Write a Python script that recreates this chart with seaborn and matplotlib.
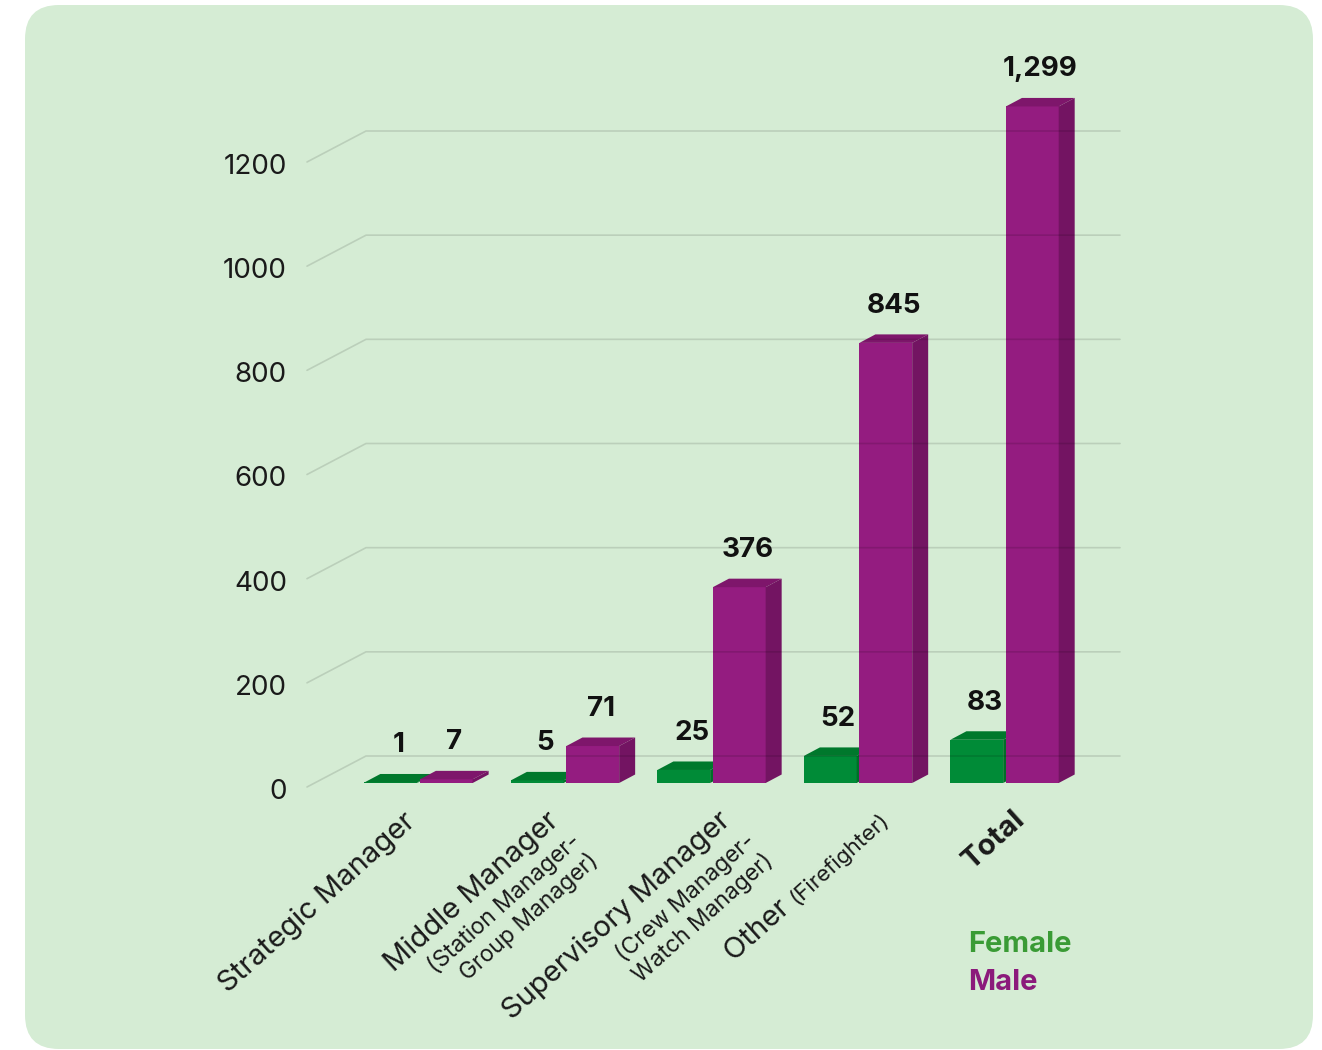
import numpy as np
import pandas as pd
import matplotlib
matplotlib.use("Agg")
import matplotlib.pyplot as plt
import seaborn as sns
from matplotlib.patches import Polygon, FancyBboxPatch
from matplotlib.lines import Line2D
from matplotlib.transforms import IdentityTransform, ScaledTranslation

# ---------------- data ----------------
categories = ["Strategic Manager", "Middle Manager", "Supervisory Manager", "Other", "Total"]
label_main = ["Strategic Manager", "Middle Manager", "Supervisory Manager", "Other", "Total"]
label_sub = ["", "(Station Manager-\nGroup Manager)", "(Crew Manager-\nWatch Manager)", "(Firefighter)", ""]
series = ["Female", "Male"]
female = [1, 5, 25, 52, 83]
male = [7, 71, 376, 845, 1299]
yticks = [0, 200, 400, 600, 800, 1000, 1200]

# ---------------- style ----------------
W, H = 1322, 1050
BG = "#d5ecd4"
GREEN_F, GREEN_TOP, GREEN_SIDE = "#008b37", "#00782c", "#006e28"
PURP_F, PURP_TOP, PURP_SIDE = "#941c80", "#7e166b", "#731462"
LEG_GREEN, LEG_PURP = "#3a9b35", "#8b1a7b"
TXT = "#1a1a1a"

sns.set_style("white")
plt.rcParams["font.family"] = ["Inter", "DejaVu Sans"]

fig = plt.figure(figsize=(W / 100, H / 100), dpi=100)
fig.patch.set_facecolor("white")

bg = FancyBboxPatch((25, 1), 1288, 1044, boxstyle="round,pad=0,rounding_size=34",
                    transform=IdentityTransform(), facecolor=BG, edgecolor="none", zorder=-1)
fig.add_artist(bg)

ax = fig.add_axes([307 / W, (H - 783) / H, (1120 - 307) / W, (783 - 158) / H])
ax.patch.set_alpha(0)

df = pd.DataFrame({
    "category": categories * 2,
    "sex": ["Female"] * len(categories) + ["Male"] * len(categories),
    "count": female + male,
})
sns.barplot(data=df, x="category", y="count", hue="sex", order=categories, hue_order=series,
            palette=[GREEN_F, PURP_F], saturation=1, width=0.758, gap=0.05, dodge=True,
            errorbar=None, legend=False, ax=ax, linewidth=0, edgecolor="none")

ax.set_xlim(-0.761, 4.788)
ax.set_ylim(0, 1200)
for s in ax.spines.values():
    s.set_visible(False)
ax.set_xlabel("")
ax.set_ylabel("")
ax.set_xticks(range(len(categories)))
ax.set_xticklabels([])
ax.set_yticks(yticks)
ax.set_yticklabels([str(t) for t in yticks], fontsize=20, color=TXT)
ax.tick_params(axis="both", length=0)
ax.tick_params(axis="y", pad=14.4)
for lab in ax.get_yticklabels():
    lab.set_transform(lab.get_transform() + ScaledTranslation(0, -6 / 100, fig.dpi_scale_trans))

# ---------------- 3D faces ----------------
DX, DY = 16, 8.5
shades = [(GREEN_TOP, GREEN_SIDE), (PURP_TOP, PURP_SIDE)]
values = [female, male]
for hi, cont in enumerate(ax.containers):
    for rect, val in zip(cont, values[hi]):
        rect.set_zorder(2 + 2 * hi)
        rect.set_clip_on(False)
        x0, y0 = ax.transData.transform((rect.get_x(), 0))
        x1, y1 = ax.transData.transform((rect.get_x() + rect.get_width(), rect.get_height()))
        top = [(x0, y1), (x1, y1), (x1 + DX, y1 + DY), (x0 + DX, y1 + DY)]
        side = [(x1, y0), (x1, y1), (x1 + DX, y1 + DY), (x1 + DX, y0 + DY)]
        for pts, c in ((top, shades[hi][0]), (side, shades[hi][1])):
            ax.add_patch(Polygon(pts, closed=True, transform=IdentityTransform(),
                                 facecolor=c, edgecolor="none", zorder=2.5 + 2 * hi, clip_on=False))
        ax.annotate(f"{val:,}", xy=(rect.get_x() + rect.get_width() / 2, rect.get_height()),
                    xytext=(DX / 2, 37), textcoords="offset pixels", ha="center", va="center",
                    fontsize=20, fontweight="bold", color="#111111", zorder=10,
                    annotation_clip=False)

# ---------------- pseudo-3D gridlines ----------------
for t in yticks:
    _, yd = ax.transData.transform((0, t))
    fig.add_artist(Line2D([307, 366, 1120], [yd - 4, yd + 27, yd + 27],
                          transform=IdentityTransform(), color="black", alpha=0.12,
                          lw=1.2, zorder=5))

# ---------------- category labels ----------------
ROT = 42
def cat_text(text, cat, dx, dy, size, weight="normal", ha="right", va="top", ls=1.05):
    ax.annotate(text, xy=(cat, 0), xytext=(dx, dy), textcoords="offset pixels",
                rotation=ROT, rotation_mode="anchor", ha=ha, va=va, multialignment="right",
                linespacing=ls, fontsize=size, fontweight=weight, color=TXT,
                annotation_clip=False)

main_off = [(-16, -24), (-19, -24), (6, -24), None, (8, -22)]
sub_off = [None, (4, -46), (32, -46), None, None]
for i, cat in enumerate(categories):
    if i == 3:
        cat_text(label_main[i] + " ", i, -61, -122, 21, ha="right", va="baseline")
        cat_text(label_sub[i], i, -61, -122, 16, ha="left", va="baseline")
        continue
    cat_text(label_main[i], i, *main_off[i], 21, weight="bold" if cat == "Total" else "normal")
    if label_sub[i]:
        cat_text(label_sub[i], i, *sub_off[i], 16.5, ls=1.2)

# ---------------- legend ----------------
fig.text(968 / W, 1 - 944 / H, series[0], fontsize=21, fontweight="bold", color=LEG_GREEN,
         ha="left", va="center")
fig.text(968 / W, 1 - 983 / H, series[1], fontsize=21, fontweight="bold", color=LEG_PURP,
         ha="left", va="center")

fig.savefig("out.png", dpi=100, facecolor="white")
